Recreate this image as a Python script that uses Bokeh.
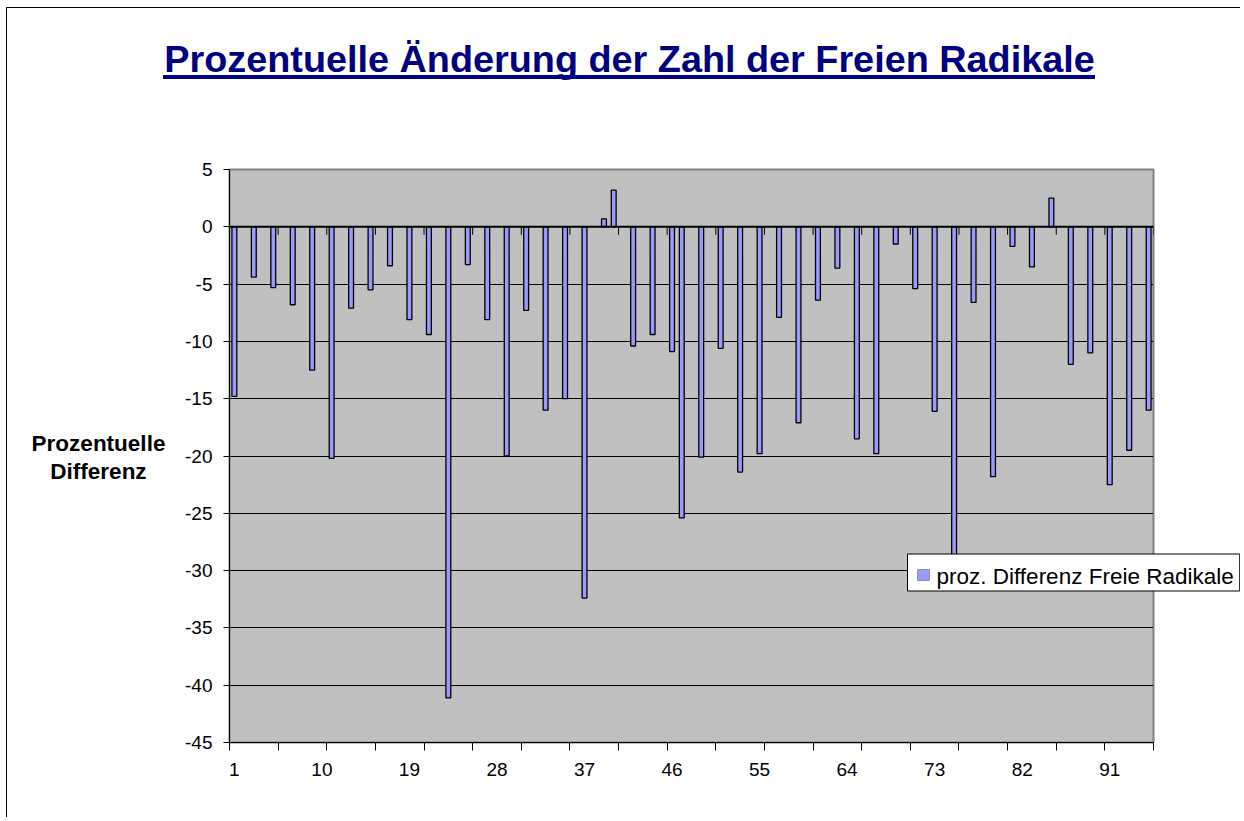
from bokeh.plotting import figure
from bokeh.models import (Range1d, FixedTicker, Label, Span, BoxAnnotation,
                          ColumnDataSource)
from bokeh.embed import file_html
from bokeh.resources import INLINE

# ---------------- data ----------------
title_text = "Prozentuelle Änderung der Zahl der Freien Radikale"
y_label_text = "Prozentuelle\nDifferenz"
series_name = "proz. Differenz Freie Radikale"

n_categories = 95
bar_categories = [1, 3, 5, 7, 9, 11, 13, 15, 17, 19, 21, 23, 25, 27, 29, 31, 33, 35, 37,
                  39, 40, 42, 44, 46, 47, 49, 51, 53, 55, 57, 59, 61, 63, 65, 67, 69, 71,
                  73, 75, 77, 79, 81, 83, 85, 87, 89, 91, 93, 95]
bar_values = [-14.8, -4.4, -5.3, -6.8, -12.5, -20.2, -7.1, -5.5, -3.4, -8.1, -9.4, -41.1,
              -3.3, -8.1, -20.0, -7.3, -16.0, -15.0, -32.4,
              0.7, 3.2, -10.4, -9.4, -10.9, -25.4, -20.1, -10.6, -21.4, -19.8, -7.9,
              -17.1, -6.4, -3.6, -18.5, -19.8, -1.5, -5.4,
              -16.1, -28.7, -6.6, -21.8, -1.7, -3.5, 2.5, -12.0, -11.0, -22.5, -19.5, -16.0]
x_tick_labels = [1, 10, 19, 28, 37, 46, 55, 64, 73, 82, 91]
x_tick_step = 5
y_ticks = [5, 0, -5, -10, -15, -20, -25, -30, -35, -40, -45]

# derived
tick_bounds = [0.5 + i for i in range(0, n_categories + 1, x_tick_step)]

FONT = "Liberation Sans"
BAR_COLOR = "#9999FF"

W, H = 1240, 817
F_LEFT, F_TOP, F_RIGHT, F_BOTTOM = 229, 169, 1153, 742   # plot frame in page pixels

page_styles = {
    "background-color": "white",
    "background-image": ("linear-gradient(#000080,#000080), "
                         "linear-gradient(#000000,#000000), "
                         "linear-gradient(#000000,#000000)"),
    "background-size": "932px 4px, 1px 2000px, 2000px 1px",
    "background-position": "163px 75px, 6px 7px, 6px 7px",
    "background-repeat": "no-repeat",
}

p = figure(width=W, height=H, output_backend="svg", toolbar_location=None,
           x_range=Range1d(0.5, n_categories + 0.5),
           y_range=Range1d(min(y_ticks), max(y_ticks)),
           min_border_left=F_LEFT, min_border_right=W - F_RIGHT,
           min_border_top=F_TOP, min_border_bottom=H - F_BOTTOM,
           background_fill_color="#C0C0C0", border_fill_alpha=0,
           styles=page_styles)
p.title.visible = False
p.outline_line_color = "#808080"
p.outline_line_width = 2

# grid
p.xgrid.visible = False
p.ygrid.ticker = FixedTicker(ticks=y_ticks)
p.ygrid.grid_line_color = "black"
p.ygrid.grid_line_width = 1

# y axis
ya = p.yaxis[0]
ya.ticker = FixedTicker(ticks=y_ticks)
ya.major_label_overrides = {v: str(v) for v in y_ticks}
ya.major_tick_out = 6
ya.major_tick_in = 0
ya.minor_tick_line_color = None
ya.axis_line_color = "black"
ya.major_tick_line_color = "black"
ya.major_label_text_font = FONT
ya.major_label_text_font_size = "19px"
ya.major_label_text_color = "black"
ya.major_label_standoff = 11

# x axis
xa = p.xaxis[0]
xa.ticker = FixedTicker(ticks=x_tick_labels, minor_ticks=tick_bounds)
xa.major_tick_out = 0
xa.major_tick_in = 0
xa.minor_tick_out = 8
xa.minor_tick_in = 0
xa.minor_tick_line_color = "black"
xa.axis_line_color = "black"
xa.major_label_text_font = FONT
xa.major_label_text_font_size = "19px"
xa.major_label_text_color = "black"
xa.major_label_standoff = 12

# small ticks of the category axis crossing at zero
tsrc = ColumnDataSource(dict(x=tick_bounds, y0=[0] * len(tick_bounds),
                             y1=[-0.7] * len(tick_bounds)))
p.segment(x0="x", y0="y0", x1="x", y1="y1", source=tsrc, line_color="black", line_width=1)

# bars
src = ColumnDataSource(dict(x=bar_categories, top=bar_values))
bars = p.vbar(x="x", top="top", bottom=0, width=0.5, source=src,
              fill_color=BAR_COLOR, line_color="black", line_width=1.3)

# zero axis line
p.add_layout(Span(location=0, dimension="width", line_color="black", line_width=2))

# ---- texts placed in side panels (not clipped to the frame) ----
ABOVE0_BOTTOM = 182        # measured reference line of the first "above" panel
TITLE_PANEL_H = 43

# title: first "above" panel
title_lbl = Label(x=629 - F_LEFT, y=ABOVE0_BOTTOM - 71, x_units="screen", y_units="screen",
                  text=title_text, text_align="center", text_baseline="alphabetic",
                  text_font=FONT, text_font_size="37.8px", text_font_style="bold",
                  text_color="#000080")
p.add_layout(title_lbl, "above")

# legend box with its text: second "above" panel, moved down over the frame
LEG_PAD_BOTTOM = 2
legend_lbl = Label(x=907 - F_LEFT,
                   y=(ABOVE0_BOTTOM - TITLE_PANEL_H) - (582 + LEG_PAD_BOTTOM),
                   x_units="screen", y_units="screen",
                   text=series_name, text_align="left", text_baseline="alphabetic",
                   text_font=FONT, text_font_size="22.5px", text_color="black",
                   background_fill_color="white", background_fill_alpha=1,
                   border_line_color="black", border_line_width=1,
                   padding=dict(left=29, right=6, top=10, bottom=LEG_PAD_BOTTOM))
p.add_layout(legend_lbl, "above")

# legend swatch (inside the frame region, drawn on top of the legend box)
swatch = BoxAnnotation(left=917 - F_LEFT, right=929 - F_LEFT,
                       top=F_BOTTOM - 569, bottom=F_BOTTOM - 580,
                       left_units="screen", right_units="screen",
                       top_units="screen", bottom_units="screen",
                       fill_color=BAR_COLOR, fill_alpha=1,
                       line_color="black", line_width=1, level="overlay")
p.add_layout(swatch)

# y-axis title (horizontal) in a "left" panel beside the y axis
AXIS_W = 45
YLAB_W = 134
ylab_left = F_LEFT - AXIS_W - YLAB_W
y_lbl = Label(x=100 - ylab_left, y=F_BOTTOM - 430, x_units="screen", y_units="screen",
              text=y_label_text, text_align="center", text_baseline="top",
              text_line_height=1.12,
              text_font=FONT, text_font_size="22.5px", text_font_style="bold",
              text_color="black")
p.add_layout(y_lbl, "left")

open("out.html", "w").write(file_html(p, INLINE))
